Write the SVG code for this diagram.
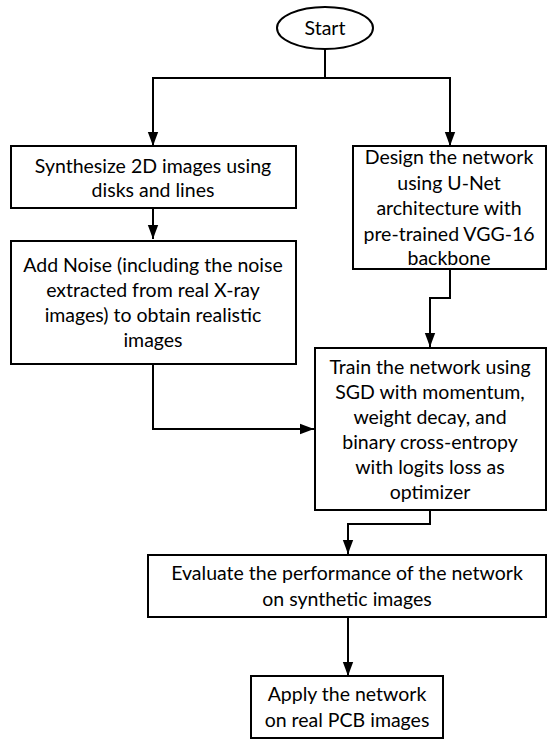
<svg xmlns="http://www.w3.org/2000/svg" width="550" height="746" viewBox="0 0 550 746">
<style>
.box{fill:#fff;stroke:#000;stroke-width:2}
.t{font-family:Lato,"Liberation Sans",sans-serif;font-size:19.5px;fill:#000;text-anchor:middle}
.c{fill:none;stroke:#000;stroke-width:2}
</style>
<defs>
<marker id="ah" markerWidth="14" markerHeight="20" refX="19" refY="7" viewBox="0 0 19 14" markerUnits="userSpaceOnUse" orient="auto">
<path d="M0,0 L19,7 L0,14 Z" fill="#000"/>
</marker>
</defs>
<rect width="550" height="746" fill="#fff"/>
<g id="connectors">
<path class="c" d="M325,49 V78 H153 V146" marker-end="url(#ah)"/>
<path class="c" d="M325,78 H450 V146" marker-end="url(#ah)"/>
<path class="c" d="M153,208 V239" marker-end="url(#ah)"/>
<path class="c" d="M450,269 V298 H430 V347" marker-end="url(#ah)"/>
<path class="c" d="M153,364 V429 H314" marker-end="url(#ah)"/>
<path class="c" d="M430,510 V524 H348 V554" marker-end="url(#ah)"/>
<path class="c" d="M348,617 V676" marker-end="url(#ah)"/>
</g>
<g id="start">
<ellipse class="box" cx="325" cy="28" rx="48" ry="21"/>
<text class="t" x="325" y="35">Start</text>
</g>
<g id="synthesize">
<rect class="box" x="11" y="146" width="285" height="62"/>
<text class="t" x="153" y="173">Synthesize 2D images using</text>
<text class="t" x="153" y="197">disks and lines</text>
</g>
<g id="design">
<rect class="box" x="353" y="146" width="193" height="123"/>
<text class="t" x="449" y="164">Design the network</text>
<text class="t" x="449" y="190">using U-Net</text>
<text class="t" x="449" y="215">architecture with</text>
<text class="t" x="449" y="241">pre-trained VGG-16</text>
<text class="t" x="449" y="265">backbone</text>
</g>
<g id="addnoise">
<rect class="box" x="11" y="241" width="285" height="123"/>
<text class="t" x="153" y="272">Add Noise (including the noise</text>
<text class="t" x="153" y="297">extracted from real X-ray</text>
<text class="t" x="153" y="322">images) to obtain realistic</text>
<text class="t" x="153" y="347">images</text>
</g>
<g id="train">
<rect class="box" x="315" y="348" width="231" height="162"/>
<text class="t" x="430" y="374">Train the network using</text>
<text class="t" x="430" y="399">SGD with momentum,</text>
<text class="t" x="430" y="424">weight decay, and</text>
<text class="t" x="430" y="449">binary cross-entropy</text>
<text class="t" x="430" y="474">with logits loss as</text>
<text class="t" x="430" y="499">optimizer</text>
</g>
<g id="evaluate">
<rect class="box" x="148" y="555" width="398" height="62"/>
<text class="t" x="347" y="580">Evaluate the performance of the network</text>
<text class="t" x="347" y="606">on synthetic images</text>
</g>
<g id="apply">
<rect class="box" x="251" y="676" width="192" height="62"/>
<text class="t" x="347" y="701">Apply the network</text>
<text class="t" x="347" y="727">on real PCB images</text>
</g>
</svg>
